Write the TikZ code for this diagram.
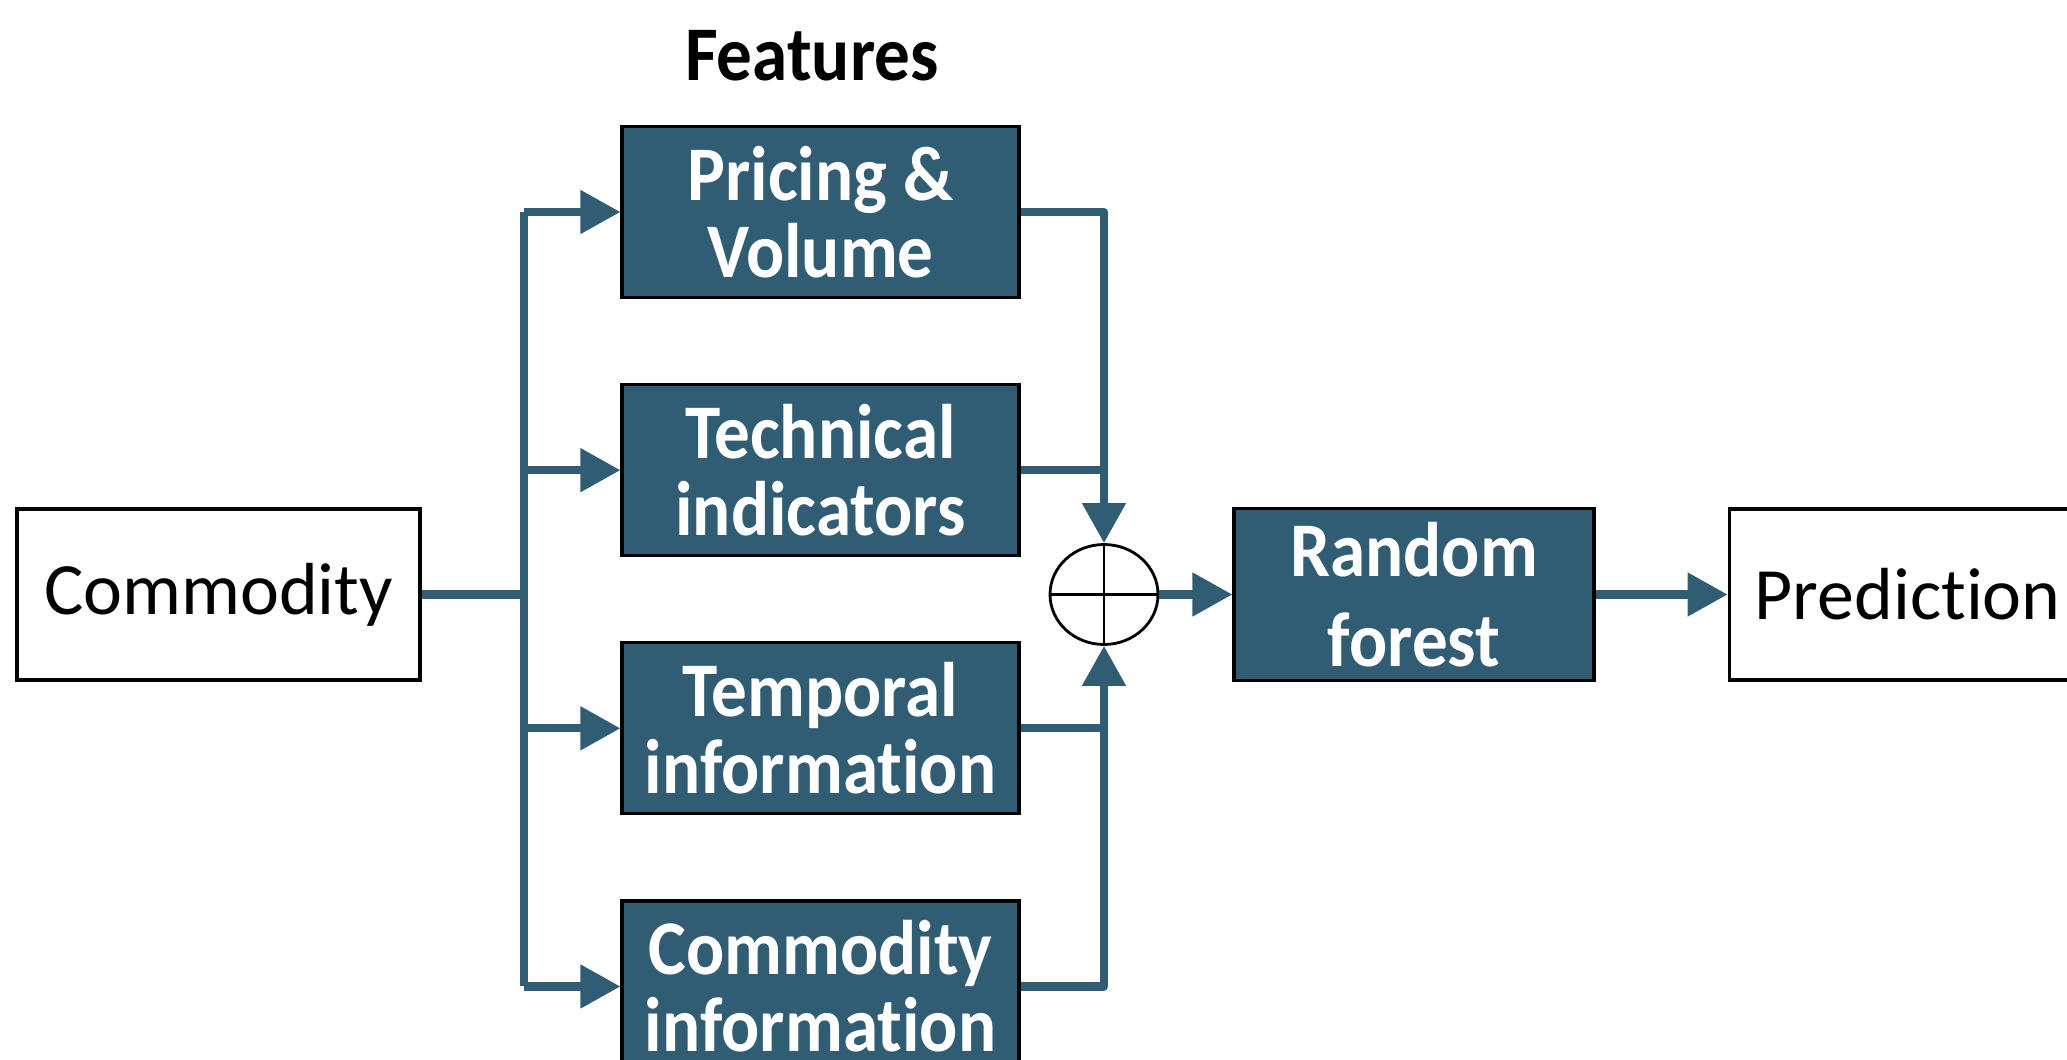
\documentclass[tikz,border=0pt]{standalone}
\usepackage{fontspec}
\setmainfont{Carlito}[RawFeature={-liga}]
\newfontfamily\boxfont{Carlito}[FakeStretch=0.92,RawFeature={-liga}]
\usepackage{xcolor}
\usetikzlibrary{positioning}
\usetikzlibrary{arrows.meta,calc}
\usetikzlibrary{shapes.geometric}

\definecolor{featblue}{HTML}{315D74}

\begin{document}
\begin{tikzpicture}[
    basic/.style={draw=black,line width=0.9pt,inner sep=0pt,align=center},
    plain/.style={basic,fill=white,minimum width=4.03cm,minimum height=1.71cm,
        font=\fontsize{21pt}{23pt}\selectfont},
    feature/.style={basic,fill=featblue,text=white,minimum width=3.97cm,minimum height=1.71cm,
        font=\fontsize{22pt}{21.9pt}\boxfont\bfseries},
    adder/.style={draw=black,line width=0.8pt,ellipse,minimum width=1.08cm,minimum height=1.0cm,inner sep=0pt},
    link/.style={draw=featblue,line width=2.3pt,line join=round},
    flow/.style={link,-{Triangle[length=0.4cm,width=0.42cm]}},
]
    \useasboundingbox (0,0) rectangle (20.67,10.59);
    \clip (0,0) rectangle (20.67,10.59);

        \node[feature] (price) at (8.205,8.47) {Pricing \&\\Volume};
        \node[feature,below=0.84cm of price] (tech) {Technical\\indicators};
        \node[feature,below=0.84cm of tech] (temp) {Temporal\\information};
        \node[feature,below=0.84cm of temp] (info) {Commodity\\information};
        \node[above=0.44cm of price.north,anchor=base,xshift=-0.085cm,
            font=\fontsize{22pt}{24pt}\boxfont\bfseries] (head) {Features};

        \node[plain] (commodity) at (2.185,4.645) {Commodity};
        \node[adder] (sum) at (11.04,4.645) {};
            \draw[line width=0.8pt] (sum.north) -- (sum.south);
            \draw[line width=0.8pt] (sum.west) -- (sum.east);
        \node[feature,right=0.73cm of sum,minimum width=3.6cm,minimum height=1.72cm,
            font=\fontsize{22pt}{25.6pt}\boxfont\bfseries] (forest) {Random\\forest};
        \node[plain,right=1.32cm of forest,minimum width=3.57cm] (pred) {Prediction};

    % split the commodity into the four feature groups
        \path[link] (commodity.east) -- ++(1.02,0) coordinate (split);
        \path[link] (split |- price) -- (split |- info);
        \foreach \f in {price,tech,temp,info}
            \path[flow] (split |- \f) -- (\f);

    % merge the features
        \path[flow] (price.east) -| (sum.north);
        \path[link] (tech.east) -- (tech.east -| sum);
        \path[link] (temp.east) -- (temp.east -| sum);
        \path[flow] (info.east) -| (sum.south);

        \path[flow] (sum) -- (forest);
        \path[flow] (forest) -- (pred);
\end{tikzpicture}
\end{document}
